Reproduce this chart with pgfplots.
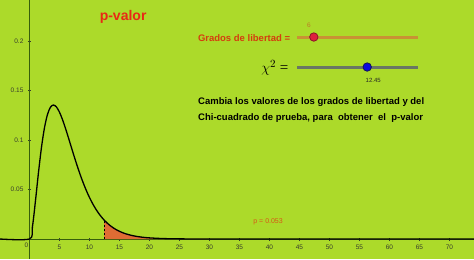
\documentclass[border=0pt]{standalone}
\usepackage{pgfplots}
\pgfplotsset{compat=1.18}
\usepackage{fontspec}
\setmainfont{Liberation Sans}
\newfontfamily\serifchi{Liberation Serif}
\definecolor{geobg}{RGB}{172,218,42}
\definecolor{axisgreen}{RGB}{55,95,10}
\definecolor{tickgray}{RGB}{55,60,45}
\definecolor{tailfill}{RGB}{222,108,52}
\definecolor{titlered}{RGB}{232,40,22}
\definecolor{gradred}{RGB}{212,62,14}
\definecolor{sliderorange}{RGB}{200,146,52}
\definecolor{slidergray}{RGB}{105,118,100}
\definecolor{knobred}{RGB}{222,32,62}
\definecolor{knobredb}{RGB}{140,20,40}
\definecolor{knobblue}{RGB}{10,10,225}
\definecolor{knobblueb}{RGB}{20,20,90}
\definecolor{plabel}{RGB}{215,88,22}
\definecolor{sixlabel}{RGB}{190,120,40}

\pgfplotstableread{
x y
-4.9 0
0 0
0.5 0.01217
1 0.03791
1.5 0.06643
2 0.09197
2.5 0.11192
3 0.12551
3.5 0.13304
4 0.13534
4.5 0.13340
5 0.12826
5.5 0.12086
6 0.11202
6.5 0.10239
7 0.09248
7.5 0.08268
8 0.07326
8.5 0.06441
9 0.05624
9.5 0.04880
10 0.04211
10.5 0.03616
11 0.03091
11.5 0.02631
12 0.02231
12.5 0.01885
13 0.01588
13.5 0.01334
14 0.01117
14.5 0.009332
15 0.00778
15.5 0.006468
16 0.00537
17 0.003675
18 0.002499
19 0.001689
20 0.001135
22 0.000505
24 0.000221
26 0.0000955
28 0.0000407
30 0.0000172
40 0
74.1 0
}\chicurve

\pgfplotstableread{
x y
12.45 0
12.45 0.01918
12.5 0.01885
13 0.01588
13.5 0.01334
14 0.01117
14.5 0.009332
15 0.00778
15.5 0.006468
16 0.00537
17 0.003675
18 0.002499
19 0.001689
20 0.001135
22 0.000505
24 0.000221
26 0.0000955
28 0.0000407
30 0.0000172
30 0
}\tail

\begin{document}
\begin{tikzpicture}
\begin{axis}[
  scale only axis,
  width=474pt, height=259pt,
  xmin=-4.9, xmax=74.1,
  ymin=-0.0202, ymax=0.2414,
  axis lines=middle,
  axis line style={-, axisgreen, line width=0.9pt},
  axis background/.style={fill=geobg},
  xtick={5,10,...,70},
  ytick={0.05,0.1,0.15,0.2},
  yticklabels={0.05,0.1,0.15,0.2},
  xticklabel style={font=\fontsize{6.5}{7}\selectfont, text=tickgray, yshift=-1pt},
  yticklabel style={font=\fontsize{6.5}{7}\selectfont, text=tickgray, xshift=-1pt},
  /pgf/number format/assume math mode=true,
  major tick length=3pt,
  tick align=center,
  tick style={tickgray, line width=0.5pt},
  clip=false,
]
\addplot[fill=tailfill, draw=none] table {\tail};
\addplot[black, line width=1.3pt, smooth] table {\chicurve};
\addplot[black, line width=0.8pt, dash pattern=on 2.5pt off 1.5pt] coordinates {(12.45,0) (12.45,0.01918)};

% slider tracks
\draw[sliderorange, line width=3pt] (axis cs:44.6,0.2040) -- (axis cs:64.8,0.2040);
\draw[slidergray, line width=3pt] (axis cs:44.6,0.1737) -- (axis cs:64.8,0.1737);
\addplot[only marks, mark=*, mark size=4.2pt, mark options={fill=knobred, draw=knobredb, line width=0.8pt}] coordinates {(47.4,0.2040)};
\addplot[only marks, mark=*, mark size=4.2pt, mark options={fill=knobblue, draw=knobblueb, line width=0.8pt}] coordinates {(56.3,0.1737)};

\node[text=tickgray, font=\fontsize{6.5}{7}\selectfont, anchor=north east, inner sep=1pt] at (axis cs:0,-0.0025) {0};
\node[text=titlered, font=\bfseries\fontsize{14}{16}\selectfont, inner sep=0pt] at (axis cs:15.62,0.2242) {p-valor};
\node[text=gradred, font=\bfseries\fontsize{9.5}{11}\selectfont, inner sep=0pt] at (axis cs:35.78,0.2033) {Grados de libertad =};
\node[text=sixlabel, font=\fontsize{6.5}{7}\selectfont, inner sep=0pt] at (axis cs:46.6,0.2162) {6};
\node[font=\serifchi\fontsize{15}{17}\selectfont, inner sep=0pt] at (axis cs:40.9,0.1727) {$\chi^2$ =};
\node[text=black!85, font=\fontsize{6}{7}\selectfont, inner sep=0pt] at (axis cs:57.3,0.1606) {12.45};
\node[font=\bfseries\fontsize{9.5}{11}\selectfont, anchor=base west, inner sep=0pt] at (axis cs:28.1,0.1354) {Cambia los valores de los grados de libertad y del};
\node[font=\bfseries\fontsize{9.5}{11}\selectfont, anchor=base west, inner sep=0pt] at (axis cs:28.1,0.1195) {Chi-cuadrado de prueba, para\ \ obtener\ \ el\ \ p-valor};
\node[text=plabel, font=\fontsize{7}{8}\selectfont, inner sep=0pt] at (axis cs:39.78,0.0175) {p = 0.053};
\end{axis}
\pgfresetboundingbox
\path[use as bounding box] (current axis.south west) rectangle (current axis.north east);
\end{tikzpicture}
\end{document}
